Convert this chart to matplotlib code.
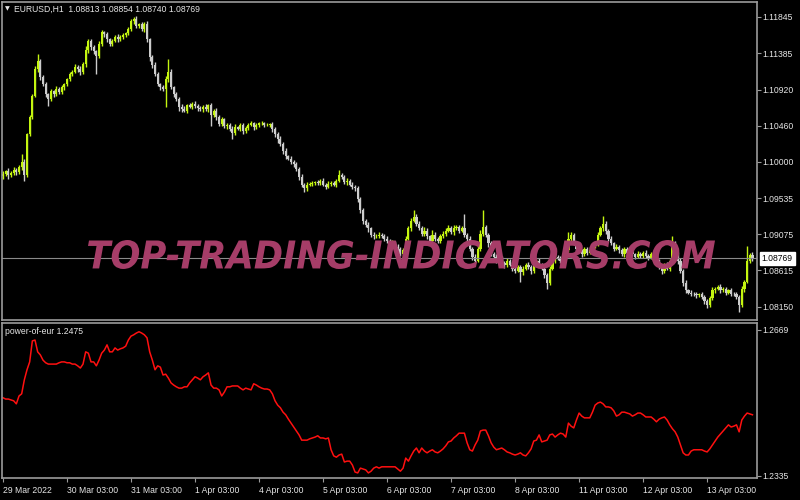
import numpy as np
import matplotlib
matplotlib.use("Agg")
import matplotlib.pyplot as plt
from matplotlib.textpath import TextPath
from matplotlib.patches import PathPatch
from matplotlib.font_manager import FontProperties
from matplotlib.transforms import Affine2D

plt.rcParams['font.family'] = ['Liberation Sans', 'DejaVu Sans']

# EURUSD H1 closes, one line per trading day (24 bars), last line = 13 Apr
first_open = 1.0982
closes = [
    1.0985, 1.0988, 1.0983, 1.0986, 1.0990, 1.0987, 1.0993, 1.1000, 1.0983, 1.1035, 1.1057, 1.1084,
    1.1118, 1.1128, 1.1108, 1.1099, 1.1086, 1.1080, 1.1090, 1.1086, 1.1093, 1.1089, 1.1095, 1.1099,
    1.1105, 1.1112, 1.1115, 1.1121, 1.1118, 1.1114, 1.1124, 1.1143, 1.1154, 1.1146, 1.1141, 1.1135,
    1.1150, 1.1165, 1.1163, 1.1156, 1.1150, 1.1154, 1.1159, 1.1156, 1.1159, 1.1161, 1.1164, 1.1169,
    1.1179, 1.1182, 1.1173, 1.1175, 1.1169, 1.1176, 1.1156, 1.1133, 1.1123, 1.1112, 1.1099, 1.1095,
    1.1093, 1.1105, 1.1115, 1.1095, 1.1086, 1.1080, 1.1070, 1.1067, 1.1065, 1.1072, 1.1070, 1.1074,
    1.1071, 1.1068, 1.1067, 1.1070, 1.1067, 1.1072, 1.1060, 1.1065, 1.1057, 1.1048, 1.1054, 1.1046,
    1.1047, 1.1042, 1.1037, 1.1044, 1.1042, 1.1047, 1.1039, 1.1043, 1.1047, 1.1049, 1.1044, 1.1047,
    1.1049, 1.1049, 1.1047, 1.1047, 1.1048, 1.1042, 1.1035, 1.1029, 1.1023, 1.1014, 1.1007, 1.1004,
    1.1000, 1.0997, 1.0991, 1.0981, 1.0971, 1.0966, 1.0971, 1.0972, 1.0973, 1.0974, 1.0973, 1.0976,
    1.0971, 1.0968, 1.0972, 1.0973, 1.0971, 1.0976, 1.0983, 1.0981, 1.0974, 1.0976, 1.0971, 1.0968,
    1.0966, 1.0953, 1.0938, 1.0925, 1.0920, 1.0915, 1.0907, 1.0905, 1.0906, 1.0907, 1.0905, 1.0902,
    1.0899, 1.0894, 1.0897, 1.0892, 1.0889, 1.0883, 1.0887, 1.0902, 1.0915, 1.0925, 1.0930, 1.0921,
    1.0915, 1.0908, 1.0912, 1.0905, 1.0899, 1.0907, 1.0902, 1.0899, 1.0905, 1.0908, 1.0912, 1.0915,
    1.0910, 1.0915, 1.0917, 1.0912, 1.0915, 1.0907, 1.0902, 1.0889, 1.0879, 1.0874, 1.0889, 1.0908,
    1.0917, 1.0907, 1.0896, 1.0883, 1.0879, 1.0874, 1.0877, 1.0871, 1.0869, 1.0874, 1.0869, 1.0864,
    1.0861, 1.0866, 1.0859, 1.0864, 1.0869, 1.0866, 1.0861, 1.0871, 1.0874, 1.0869, 1.0864, 1.0856,
    1.0846, 1.0864, 1.0874, 1.0879, 1.0877, 1.0874, 1.0879, 1.0887, 1.0902, 1.0907, 1.0896, 1.0889,
    1.0887, 1.0882, 1.0889, 1.0884, 1.0887, 1.0892, 1.0896, 1.0907, 1.0915, 1.0921, 1.0912, 1.0902,
    1.0896, 1.0889, 1.0892, 1.0887, 1.0882, 1.0889, 1.0884, 1.0887, 1.0882, 1.0879, 1.0883, 1.0880,
    1.0884, 1.0880, 1.0878, 1.0882, 1.0879, 1.0874, 1.0866, 1.0861, 1.0869, 1.0864, 1.0874, 1.0896,
    1.0883, 1.0874, 1.0861, 1.0846, 1.0836, 1.0833, 1.0832, 1.0831, 1.0830, 1.0831, 1.0828, 1.0823,
    1.0818, 1.0826, 1.0836, 1.0838, 1.0841, 1.0836, 1.0838, 1.0833, 1.0836, 1.0832, 1.0831, 1.0828,
    1.0818, 1.0838, 1.0847, 1.0874, 1.08813, 1.08769,
]

# wick length above / below the body, in pips
upper_wick = [
    3, 2, 4, 2, 3, 2, 3, 10, 3, 2, 3, 2, 4, 9, 3, 2, 3, 2, 3, 2, 4, 2, 3, 2,
    2, 3, 2, 3, 2, 4, 3, 5, 3, 2, 3, 2, 4, 3, 2, 3, 2, 3, 2, 4, 2, 3, 2, 3,
    3, 3, 4, 2, 3, 2, 3, 2, 3, 4, 3, 2, 3, 4, 16, 3, 2, 3, 2, 3, 4, 2, 3, 2,
    3, 2, 3, 2, 3, 2, 3, 2, 4, 2, 3, 2, 3, 2, 3, 4, 2, 3, 2, 3, 2, 3, 2, 3,
    2, 3, 2, 3, 2, 3, 2, 3, 4, 2, 3, 2, 3, 2, 3, 2, 3, 2, 3, 2, 3, 2, 3, 2,
    3, 2, 3, 2, 3, 2, 6, 3, 2, 3, 2, 3, 2, 3, 2, 3, 2, 3, 2, 3, 2, 3, 2, 3,
    3, 2, 3, 2, 3, 2, 3, 4, 3, 4, 8, 3, 4, 3, 5, 3, 2, 6, 3, 2, 3, 4, 3, 4,
    3, 4, 3, 2, 3, 19, 2, 3, 2, 3, 4, 5, 21, 3, 2, 3, 2, 3, 2, 3, 2, 3, 2, 3,
    2, 3, 2, 3, 2, 3, 2, 3, 2, 3, 2, 3, 2, 3, 2, 3, 2, 3, 2, 3, 9, 3, 2, 3,
    3, 2, 3, 2, 3, 2, 3, 4, 3, 10, 3, 2, 3, 2, 3, 2, 3, 2, 3, 2, 3, 2, 3, 2,
    2, 3, 2, 3, 2, 3, 2, 3, 2, 3, 2, 9, 3, 2, 3, 2, 3, 2, 3, 2, 3, 2, 3, 2,
    2, 3, 4, 3, 2, 3, 2, 3, 2, 3, 2, 3, 2, 4, 3, 19, 3, 4,
]
lower_wick = [
    4, 3, 5, 2, 3, 4, 2, 3, 7, 3, 2, 3, 2, 3, 4, 3, 3, 9, 2, 3, 2, 3, 2, 3,
    3, 2, 3, 2, 4, 3, 2, 3, 5, 3, 4, 23, 3, 2, 4, 3, 2, 3, 2, 3, 2, 3, 2, 3,
    2, 3, 2, 3, 2, 4, 3, 5, 4, 3, 2, 4, 3, 23, 3, 2, 4, 3, 5, 3, 2, 3, 2, 3,
    2, 3, 2, 3, 2, 3, 14, 3, 4, 3, 2, 3, 4, 3, 8, 3, 2, 3, 4, 2, 3, 2, 3, 2,
    3, 2, 3, 2, 3, 4, 3, 5, 3, 4, 3, 2, 3, 4, 3, 4, 3, 5, 3, 2, 3, 2, 3, 2,
    2, 3, 2, 3, 2, 3, 2, 3, 2, 3, 2, 3, 3, 4, 3, 4, 3, 4, 3, 3, 2, 3, 2, 3,
    2, 3, 2, 3, 4, 3, 2, 3, 2, 3, 2, 3, 2, 3, 2, 4, 3, 2, 3, 2, 3, 2, 3, 2,
    2, 3, 2, 3, 2, 3, 4, 3, 4, 3, 2, 3, 2, 3, 4, 3, 2, 3, 2, 3, 4, 3, 2, 3,
    3, 2, 12, 3, 2, 3, 4, 3, 2, 3, 2, 4, 8, 3, 2, 3, 2, 3, 2, 3, 2, 3, 2, 3,
    2, 3, 2, 3, 2, 3, 2, 3, 2, 3, 4, 3, 2, 3, 2, 3, 2, 3, 2, 3, 2, 3, 2, 3,
    3, 2, 3, 2, 3, 4, 3, 4, 3, 2, 3, 2, 3, 4, 3, 4, 3, 2, 3, 2, 3, 2, 3, 4,
    4, 3, 2, 3, 2, 3, 2, 3, 2, 3, 2, 3, 9, 3, 4, 2, 3, 3,
]

# power-of-eur indicator, same bars
power = [
    1.2514, 1.2511, 1.2511, 1.2509, 1.2507, 1.2500, 1.2518, 1.2523, 1.2555, 1.2578, 1.2596, 1.2644,
    1.2646, 1.2619, 1.2612, 1.2600, 1.2594, 1.2591, 1.2591, 1.2591, 1.2591, 1.2594, 1.2596, 1.2596,
    1.2594, 1.2594, 1.2591, 1.2591, 1.2587, 1.2582, 1.2591, 1.2619, 1.2616, 1.2596, 1.2596, 1.2587,
    1.2600, 1.2616, 1.2623, 1.2635, 1.2619, 1.2619, 1.2628, 1.2623, 1.2626, 1.2628, 1.2632, 1.2646,
    1.2655, 1.2658, 1.2662, 1.2665, 1.2662, 1.2658, 1.2651, 1.2619, 1.2600, 1.2578, 1.2587, 1.2584,
    1.2566, 1.2568, 1.2559, 1.2548, 1.2543, 1.2539, 1.2536, 1.2536, 1.2539, 1.2539, 1.2548, 1.2555,
    1.2562, 1.2559, 1.2555, 1.2562, 1.2566, 1.2571, 1.2543, 1.2536, 1.2536, 1.2532, 1.2518, 1.2527,
    1.2539, 1.2539, 1.2541, 1.2541, 1.2541, 1.2536, 1.2532, 1.2536, 1.2534, 1.2532, 1.2546, 1.2543,
    1.2539, 1.2536, 1.2534, 1.2534, 1.2532, 1.2523, 1.2507, 1.2497, 1.2491, 1.2481, 1.2475, 1.2465,
    1.2456, 1.2447, 1.2438, 1.2429, 1.2417, 1.2417, 1.2417, 1.2420, 1.2422, 1.2424, 1.2427, 1.2422,
    1.2422, 1.2420, 1.2422, 1.2395, 1.2381, 1.2378, 1.2383, 1.2385, 1.2367, 1.2369, 1.2369, 1.2360,
    1.2344, 1.2342, 1.2353, 1.2351, 1.2349, 1.2342, 1.2346, 1.2353, 1.2356, 1.2353, 1.2356, 1.2356,
    1.2356, 1.2356, 1.2356, 1.2356, 1.2351, 1.2346, 1.2353, 1.2376, 1.2369, 1.2381, 1.2392, 1.2399,
    1.2388, 1.2399, 1.2392, 1.2388, 1.2392, 1.2395, 1.2390, 1.2388, 1.2392, 1.2397, 1.2404, 1.2413,
    1.2415, 1.2422, 1.2427, 1.2433, 1.2433, 1.2433, 1.2411, 1.2395, 1.2392, 1.2406, 1.2417, 1.2438,
    1.2440, 1.2440, 1.2427, 1.2411, 1.2401, 1.2395, 1.2397, 1.2399, 1.2395, 1.2390, 1.2388, 1.2385,
    1.2383, 1.2385, 1.2388, 1.2383, 1.2381, 1.2388, 1.2397, 1.2415, 1.2417, 1.2429, 1.2413, 1.2415,
    1.2417, 1.2429, 1.2431, 1.2424, 1.2429, 1.2433, 1.2431, 1.2424, 1.2456, 1.2449, 1.2445, 1.2463,
    1.2479, 1.2472, 1.2468, 1.2468, 1.2468, 1.2481, 1.2497, 1.2502, 1.2504, 1.2500, 1.2493, 1.2493,
    1.2491, 1.2484, 1.2472, 1.2475, 1.2481, 1.2481, 1.2479, 1.2477, 1.2472, 1.2475, 1.2479, 1.2479,
    1.2475, 1.2470, 1.2470, 1.2470, 1.2465, 1.2459, 1.2465, 1.2468, 1.2470, 1.2463, 1.2452, 1.2443,
    1.2436, 1.2424, 1.2406, 1.2388, 1.2383, 1.2383, 1.2392, 1.2395, 1.2395, 1.2395, 1.2395, 1.2392,
    1.2390, 1.2397, 1.2406, 1.2415, 1.2424, 1.2431, 1.2438, 1.2445, 1.2452, 1.2447, 1.2449, 1.2452,
    1.2436, 1.2463, 1.2472, 1.2479, 1.2477, 1.2475,
]

price_ticks = [1.11845, 1.11385, 1.10920, 1.10460, 1.10000, 1.09535, 1.09075, 1.08615, 1.08150]
power_ticks = [1.2669, 1.2335]
time_tick_bars = [0, 24, 48, 72, 96, 120, 144, 168, 192, 216, 240, 264]
time_labels = ["29 Mar 2022", "30 Mar 03:00", "31 Mar 03:00", "1 Apr 03:00", "4 Apr 03:00",
               "5 Apr 03:00", "6 Apr 03:00", "7 Apr 03:00", "8 Apr 03:00", "11 Apr 03:00",
               "12 Apr 03:00", "13 Apr 03:00"]

closes = np.array(closes)
opens = np.concatenate([[first_open], closes[:-1]])
highs = np.maximum(opens, closes) + np.array(upper_wick) * 0.0001
lows = np.minimum(opens, closes) - np.array(lower_wick) * 0.0001
bars = np.arange(len(closes))

W, H = 800, 500
fig = plt.figure(figsize=(8, 5), dpi=100, facecolor="black")


def px_axes(x0, y0, x1, y1):
    # pixel box measured from the top-left of the picture
    return fig.add_axes([x0 / W, 1 - y1 / H, (x1 - x0) / W, (y1 - y0) / H])


ax = px_axes(2, 2, 757, 320)
axi = px_axes(2, 323, 757, 478)

grey = "#9a9a9a"
txt = "#e6e6e6"
for a in (ax, axi):
    a.set_facecolor("black")
    for s in a.spines.values():
        s.set_color(grey)
        s.set_linewidth(1.2)
    a.set_xlim(-0.375, 282.7)
    a.yaxis.tick_right()
    a.tick_params(axis="y", colors=grey, labelcolor=txt, labelsize=6.2, length=3, width=0.8, pad=1)

# candles
bull = closes >= opens
cols = np.where(bull, "#c4f510", "#cccccc")
ax.vlines(bars, lows, highs, colors=cols, linewidth=1.0)
body = np.maximum(np.abs(closes - opens), 0.00005)
ax.bar(bars, body, bottom=np.minimum(opens, closes), width=0.82, color=cols, linewidth=0)

ax.set_ylim(1.07984, 1.12036)
ax.set_yticks(price_ticks)
ax.set_yticklabels([f"{v:.5f}" for v in price_ticks])
ax.set_xticks([])

# last price line and box
ax.axhline(closes[-1], color="#8a8a8a", linewidth=0.8)
ax.annotate(f"{closes[-1]:.5f}", xy=(1.0, closes[-1]), xycoords=("axes fraction", "data"),
            xytext=(3.5, 0), textcoords="offset points", va="center", ha="left",
            fontsize=6.2, color="black",
            bbox=dict(boxstyle="square,pad=0.2", fc="white", ec="white"), annotation_clip=False)

# indicator
axi.plot(bars, power, color="#ff1010", linewidth=1.1)
axi.set_ylim(1.23304, 1.2685)
axi.set_yticks(power_ticks)
axi.set_yticklabels([f"{v:.4f}" for v in power_ticks])
axi.set_xticks(time_tick_bars)
axi.set_xticklabels(time_labels)
axi.tick_params(axis="x", colors=grey, labelcolor=txt, labelsize=6.2, length=3, width=0.8, pad=3)
for lab in axi.get_xticklabels():
    lab.set_ha("left")

fig.text(5 / W, 1 - 9 / H, "\u25bc", color=txt, fontsize=4.5, va="center", family="DejaVu Sans")
fig.text(14 / W, 1 - 9 / H, "EURUSD,H1  1.08813 1.08854 1.08740 1.08769",
         color=txt, fontsize=6.2, va="center")
fig.text(5 / W, 1 - 331 / H, "power-of-eur 1.2475", color=txt, fontsize=6.2, va="center")

# watermark
wm = TextPath((0, 0), "TOP-TRADING-INDICATORS.COM", size=10,
              prop=FontProperties(family="DejaVu Sans", weight="bold", style="italic"))
ext = wm.get_extents()
tr = (Affine2D().translate(-ext.x0, -ext.y0)
      .scale(627 / ext.width / W, 29 / ext.height / H)
      .translate(88 / W, 1 - 269 / H))
fig.add_artist(PathPatch(wm, transform=tr + fig.transFigure, fc="#a63d68", ec="none", zorder=5))

plt.savefig("out.png", dpi=100, facecolor="black")
